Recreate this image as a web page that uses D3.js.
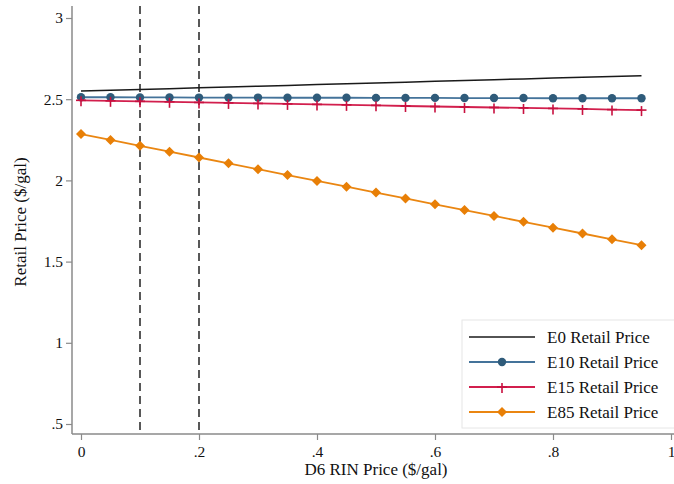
<!DOCTYPE html>
<html><head><meta charset="utf-8">
<script src="https://cdn.jsdelivr.net/npm/d3@7"></script>
<style>body{margin:0;background:#fff}svg{display:block}</style>
</head><body>
<script>
const rinPrice = [0,0.05,0.1,0.15,0.2,0.25,0.3,0.35,0.4,0.45,0.5,0.55,0.6,0.65,0.7,0.75,0.8,0.85,0.9,0.95];
const e0 = [2.550,2.555,2.560,2.565,2.570,2.575,2.580,2.585,2.590,2.595,2.600,2.605,2.610,2.615,2.620,2.625,2.630,2.635,2.640,2.645];
const e10 = [2.512,2.512,2.511,2.511,2.510,2.510,2.510,2.509,2.509,2.509,2.508,2.508,2.508,2.507,2.507,2.507,2.506,2.506,2.506,2.506];
const e15 = [2.493,2.490,2.487,2.484,2.480,2.477,2.474,2.471,2.468,2.465,2.462,2.458,2.455,2.452,2.449,2.446,2.443,2.440,2.436,2.433];
const e85 = [2.285,2.249,2.213,2.177,2.141,2.105,2.069,2.033,1.997,1.961,1.925,1.889,1.853,1.817,1.781,1.745,1.709,1.673,1.637,1.601];
const xTicks = [0,0.2,0.4,0.6,0.8,1];
const xTickLabels = ["0",".2",".4",".6",".8","1"];
const yTicks = [0.5,1,1.5,2,2.5,3];
const yTickLabels = [".5","1","1.5","2","2.5","3"];
const refLines = [0.1,0.2];
const seriesNames = ["E0 Retail Price","E10 Retail Price","E15 Retail Price","E85 Retail Price"];
const seriesColors = ["#1a1a1a","#44739a","#d21f4d","#ea8611"];
const markerColors = [null,"#2f5b7a","#c8103f","#e87f06"];
const markerTypes = ["none","circle","plus","diamond"];
const xLabel = "D6 RIN Price ($/gal)";
const yLabel = "Retail Price ($/gal)";

const W = 674, H = 484;
const font = "'Liberation Serif','Times New Roman',serif";
const svg = d3.select("body").append("svg").attr("width",W).attr("height",H);

const x = d3.scaleLinear().domain([0,1]).range([81,671]);
const y = d3.scaleLinear().domain([0.5,3]).range([424,18]);
const plotL = 72, plotR = 674, plotT = 6, plotB = 434;
const axisColor = "#8a8a8a";

// axes
const gx = svg.append("g").attr("transform",`translate(0,${plotB})`)
  .call(d3.axisBottom(x).tickValues(xTicks).tickFormat((d,i)=>xTickLabels[i]).tickSize(6).tickPadding(6));
const gy = svg.append("g").attr("transform",`translate(${plotL},0)`)
  .call(d3.axisLeft(y).tickValues(yTicks).tickFormat((d,i)=>yTickLabels[i]).tickSize(6).tickPadding(3));
[gx,gy].forEach(g=>{
  g.select(".domain").remove();
  g.selectAll(".tick line").attr("stroke",axisColor).attr("stroke-width",1.2);
  g.selectAll(".tick text").attr("font-family",font).attr("font-size",15.5).attr("fill","#111");
});
svg.append("line").attr("x1",plotL).attr("x2",plotR).attr("y1",plotB).attr("y2",plotB).attr("stroke",axisColor).attr("stroke-width",1.5);
svg.append("line").attr("x1",plotL).attr("x2",plotL).attr("y1",plotT).attr("y2",plotB).attr("stroke",axisColor).attr("stroke-width",1.5);

// ref lines
svg.selectAll(".ref").data(refLines).join("line")
  .attr("x1",d=>x(d)).attr("x2",d=>x(d)).attr("y1",plotT).attr("y2",plotB-1)
  .attr("stroke","#222").attr("stroke-width",1.5).attr("stroke-dasharray","8,5");

// series
const allSeries = [e0,e10,e15,e85];
const line = d3.line().x((d,i)=>x(rinPrice[i])).y(d=>y(d));
function drawMarker(g,type,cx,cy,color){
  if(type==="circle") g.append("circle").attr("cx",cx).attr("cy",cy).attr("r",4.2).attr("fill",color);
  else if(type==="plus"){
    g.append("line").attr("x1",cx).attr("x2",cx).attr("y1",cy-4).attr("y2",cy+6).attr("stroke",color).attr("stroke-width",1.6);
    g.append("line").attr("x1",cx-5).attr("x2",cx+5).attr("y1",cy).attr("y2",cy).attr("stroke",color).attr("stroke-width",1.6);
  } else if(type==="diamond"){
    const s=5;
    g.append("path").attr("d",`M${cx},${cy-s}L${cx+s},${cy}L${cx},${cy+s}L${cx-s},${cy}Z`).attr("fill",color);
  }
}
allSeries.forEach((vals,k)=>{
  const g = svg.append("g");
  g.append("path").datum(vals).attr("d",line).attr("fill","none").attr("stroke",seriesColors[k]).attr("stroke-width",k===0?1.5:1.8);
  if(markerTypes[k]!=="none") vals.forEach((v,i)=>drawMarker(g,markerTypes[k],x(rinPrice[i]),y(v),markerColors[k]));
});

// axis titles
svg.append("text").attr("x",376).attr("y",475).attr("text-anchor","middle")
  .attr("font-family",font).attr("font-size",17).attr("fill","#111").text(xLabel);
svg.append("text").attr("transform","translate(26,222) rotate(-90)").attr("text-anchor","middle")
  .attr("font-family",font).attr("font-size",17).attr("fill","#111").text(yLabel);

// legend
const lg = svg.append("g");
lg.append("rect").attr("x",462).attr("y",320).attr("width",216).attr("height",108)
  .attr("fill","#fff").attr("stroke","#e6e6e6").attr("stroke-width",1);
const rowY = [337,362,387,412];
seriesNames.forEach((name,k)=>{
  lg.append("line").attr("x1",469).attr("x2",535).attr("y1",rowY[k]).attr("y2",rowY[k])
    .attr("stroke",seriesColors[k]).attr("stroke-width",k===0?1.5:1.8);
  if(markerTypes[k]!=="none") drawMarker(lg,markerTypes[k],502,rowY[k],markerColors[k]);
  lg.append("text").attr("x",547).attr("y",rowY[k]+6).attr("font-family",font).attr("font-size",17)
    .attr("fill","#111").text(name);
});
</script>
</body></html>
